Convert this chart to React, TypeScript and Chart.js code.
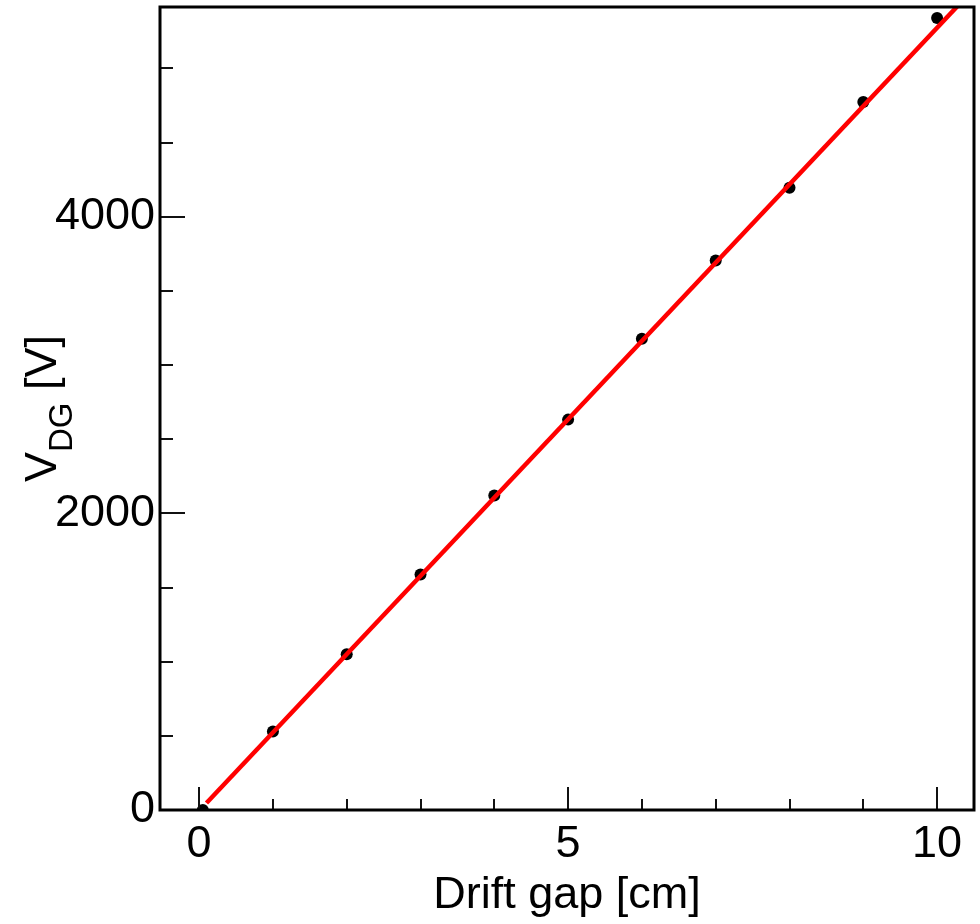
import React, { useEffect, useRef } from "react";
import { Chart, registerables } from "chart.js";

Chart.register(...registerables);

// ---- data ----
const gapCm = [0.05, 1, 2, 3, 4, 5, 6, 7, 8, 9, 10];
const voltageV = [0, 530, 1050, 1587, 2121, 2632, 3177, 3705, 4196, 4773, 5340];
const fitX = [0.1, 10.5];
const fitY = [47, 5538];
const xTickValues = [0, 1, 2, 3, 4, 5, 6, 7, 8, 9, 10];
const yTickValues = [0, 500, 1000, 1500, 2000, 2500, 3000, 3500, 4000, 4500, 5000];
const xMajorTicks = [0, 5, 10];
const yMajorTicks = [0, 2000, 4000];
const xTitle = "Drift gap [cm]";
const yTitleMain = "V";
const yTitleSub = "DG";
const yTitleUnit = " [V]";

const FONT = "'Liberation Sans', Arial, Helvetica, sans-serif";

const rootFrame = {
  id: "rootFrame",
  afterDraw(chart: any) {
    const { ctx, chartArea: a, scales } = chart;
    const xs = scales.x;
    const ys = scales.y;
    ctx.save();
    ctx.strokeStyle = "#111";
    ctx.lineWidth = 2;
    xs.ticks.forEach((t: any) => {
      const px = Math.round(xs.getPixelForValue(t.value));
      const len = xMajorTicks.includes(t.value) ? 23 : 11;
      ctx.beginPath();
      ctx.moveTo(px, a.bottom);
      ctx.lineTo(px, a.bottom - len);
      ctx.stroke();
    });
    ys.ticks.forEach((t: any) => {
      const py = Math.round(ys.getPixelForValue(t.value));
      const len = yMajorTicks.includes(t.value) ? 25 : 13;
      ctx.beginPath();
      ctx.moveTo(a.left, py);
      ctx.lineTo(a.left + len, py);
      ctx.stroke();
    });
    // frame
    ctx.strokeStyle = "#000";
    ctx.lineWidth = 3;
    ctx.strokeRect(a.left, a.top, a.right - a.left, a.bottom - a.top);

    // x title
    ctx.fillStyle = "#000";
    ctx.font = `45px ${FONT}`;
    ctx.textAlign = "center";
    ctx.textBaseline = "alphabetic";
    ctx.fillText(xTitle, (a.left + a.right) / 2, 908);

    // y title (rotated, with subscript)
    const mainFont = `45px ${FONT}`;
    const subFont = `33px ${FONT}`;
    ctx.font = mainFont;
    const wMain = ctx.measureText(yTitleMain).width;
    const wUnit = ctx.measureText(yTitleUnit).width;
    ctx.font = subFont;
    const wSub = ctx.measureText(yTitleSub).width;
    const total = wMain + wSub + wUnit;
    const cy = (a.top + a.bottom) / 2;
    ctx.translate(56, cy);
    ctx.rotate(-Math.PI / 2);
    ctx.textAlign = "left";
    let x0 = -total / 2;
    ctx.font = mainFont;
    ctx.fillText(yTitleMain, x0, 0);
    x0 += wMain;
    ctx.font = subFont;
    ctx.fillText(yTitleSub, x0, 16);
    x0 += wSub;
    ctx.font = mainFont;
    ctx.fillText(yTitleUnit, x0, 0);
    ctx.restore();
  },
};

const zeroPad = (s: any) => {
  s.paddingTop = 0;
  s.paddingBottom = 0;
  s.paddingLeft = 0;
  s.paddingRight = 0;
};

export default function App() {
  const ref = useRef<HTMLCanvasElement | null>(null);

  useEffect(() => {
    if (!ref.current) return;
    const chart = new Chart(ref.current, {
      type: "scatter",
      data: {
        datasets: [
          {
            type: "line",
            label: "fit",
            data: fitX.map((x, i) => ({ x, y: fitY[i] })),
            borderColor: "#ff0000",
            borderWidth: 4.5,
            pointRadius: 0,
            showLine: true,
            fill: false,
            order: 0,
          } as any,
          {
            label: "data",
            data: gapCm.map((x, i) => ({ x, y: voltageV[i] })),
            backgroundColor: "#000",
            borderColor: "#000",
            borderWidth: 0,
            pointRadius: 6,
            order: 1,
          },
        ],
      },
      options: {
        animation: false,
        responsive: false,
        devicePixelRatio: 1,
        layout: {
          autoPadding: false,
          padding: { top: 7, right: 6, left: 0, bottom: 0 },
        },
        plugins: {
          legend: { display: false },
          tooltip: { enabled: false },
          title: { display: false },
        },
        scales: {
          x: {
            type: "linear",
            min: -0.53,
            max: 10.5,
            grid: { display: false, drawTicks: false },
            border: { display: false },
            afterBuildTicks: (s: any) => {
              s.ticks = xTickValues.map((v) => ({ value: v }));
            },
            ticks: {
              autoSkip: false,
              maxRotation: 0,
              padding: 8,
              color: "#000",
              font: { size: 45, family: FONT },
              callback: (v: any) => (xMajorTicks.includes(Number(v)) ? String(v) : ""),
            },
            afterFit: (s: any) => {
              s.height = 114;
              zeroPad(s);
            },
          },
          y: {
            type: "linear",
            min: 0,
            max: 5414,
            grid: { display: false, drawTicks: false },
            border: { display: false },
            afterBuildTicks: (s: any) => {
              s.ticks = yTickValues.map((v) => ({ value: v }));
            },
            ticks: {
              autoSkip: false,
              padding: 5,
              color: "#000",
              font: { size: 45, family: FONT },
              callback: (v: any) => (yMajorTicks.includes(Number(v)) ? String(v) : ""),
            },
            afterFit: (s: any) => {
              s.width = 160;
              zeroPad(s);
            },
          },
        },
      },
      plugins: [rootFrame],
    });
    return () => chart.destroy();
  }, []);

  return (
    <div style={{ position: "absolute", left: 0, top: 0, width: 980, height: 924, background: "#fff" }}>
      <canvas ref={ref} width={980} height={924} style={{ width: 980, height: 924, display: "block" }} />
    </div>
  );
}
